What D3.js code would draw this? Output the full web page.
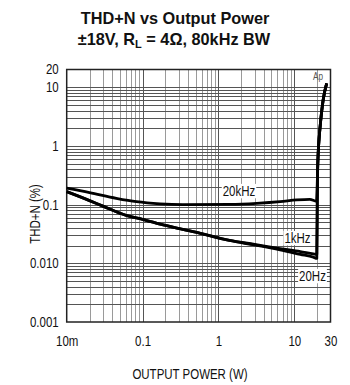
<!DOCTYPE html>
<html>
<head>
<meta charset="utf-8">
<script src="https://cdn.jsdelivr.net/npm/d3@7"></script>
<style>
  html, body { margin: 0; padding: 0; background: #fff; }
  svg { display: block; }
  .title { font-family: "Liberation Sans", Arial, sans-serif; font-weight: bold; font-size: 16.3px; fill: #111; }
  .lbl { font-family: "Liberation Sans", Arial, sans-serif; font-size: 14px; fill: #111; }
</style>
</head>
<body>
<svg id="chart" width="350" height="385"></svg>
<script>
// THD+N (%) versus output power (W) for three test frequencies
const power20k = [0.01, 0.02, 0.045, 0.083, 0.17, 0.34, 1.4, 3.2, 6.5, 10.8, 16, 19.6, 20.2, 20.6, 21.2, 21.7, 24, 26.7];
const thd20k   = [0.19, 0.16, 0.128, 0.112, 0.103, 0.1, 0.101, 0.105, 0.112, 0.12, 0.123, 0.114, 0.3, 0.7, 1.3, 1.87, 6.05, 11.6];

const power1k  = [0.01, 0.02, 0.03, 0.062, 0.1, 0.187, 0.5, 1.4, 3, 6.5, 12, 17.8, 19.8, 20.2, 20.6, 21.2, 21.7, 24, 26.7];
const thd1k    = [0.166, 0.117, 0.094, 0.0647, 0.056, 0.045, 0.034, 0.0245, 0.021, 0.0178, 0.0158, 0.0145, 0.0142, 0.3, 0.7, 1.3, 1.87, 6.05, 11.6];

const power20  = [0.01, 0.02, 0.03, 0.062, 0.1, 0.187, 0.5, 1.4, 3, 6.5, 12, 17.8, 19.8, 20.2, 20.6, 21.2, 21.7, 24, 26.7];
const thd20    = [0.166, 0.117, 0.094, 0.0647, 0.056, 0.045, 0.034, 0.0245, 0.0205, 0.0169, 0.0142, 0.0127, 0.0121, 0.3, 0.7, 1.3, 1.87, 6.05, 11.6];

const xTickValues = [0.01, 0.1, 1, 10, 30];
const xTickLabels = ["10m", "0.1", "1", "10", "30"];
const yTickValues = [0.001, 0.01, 0.1, 1, 10, 20];
const yTickLabels = ["0.001", "0.010", "0.1", "1", "10", "20"];

const svg = d3.select("#chart");
const plotL = 66.7, plotR = 330.5, plotT = 69.5, plotB = 322;
const squeeze = 0.82; // narrow lettering for the plot labels

const x = d3.scaleLog().domain([0.01, 30]).range([plotL, plotR]);
const y = d3.scaleLog().domain([0.001, 20]).range([plotB, plotT]);

// compress a text horizontally about its own x anchor
function narrow(sel) {
  sel.each(function () {
    const t = d3.select(this);
    const ox = +t.attr("x") || 0;
    t.attr("transform", `translate(${ox},0) scale(${squeeze},1) translate(${-ox},0)`);
  });
}

// title
svg.append("text").attr("class", "title").attr("x", 175).attr("y", 23.5)
  .attr("text-anchor", "middle").text("THD+N vs Output Power");
const t2 = svg.append("text").attr("class", "title").attr("x", 174).attr("y", 45)
  .attr("text-anchor", "middle");
t2.append("tspan").text("\u00B118V, R");
t2.append("tspan").attr("font-size", "11px").attr("dy", 3).text("L");
t2.append("tspan").attr("dy", -3).text(" = 4\u03A9, 80kHz BW");

// grid: every 1..9 multiple inside each decade
const g = svg.append("g");
const xGrid = [];
for (let d = 0.01; d < 30; d *= 10) for (let k = 1; k <= 9; k++) { const v = +(d * k).toPrecision(3); if (v > 0.01 && v < 30) xGrid.push(v); }
const yGrid = [];
for (let d = 0.001; d < 20; d *= 10) for (let k = 1; k <= 9; k++) { const v = +(d * k).toPrecision(3); if (v > 0.001 && v < 20) yGrid.push(v); }

g.selectAll(".vx").data(xGrid).join("line")
  .attr("x1", d => Math.round(x(d)) + 0.5).attr("x2", d => Math.round(x(d)) + 0.5)
  .attr("y1", plotT).attr("y2", plotB)
  .attr("stroke", d => [0.1, 1, 10].includes(d) ? "#555" : "#9a9a9a").attr("stroke-width", 1);
g.selectAll(".hy").data(yGrid).join("line")
  .attr("y1", d => Math.round(y(d)) + 0.5).attr("y2", d => Math.round(y(d)) + 0.5)
  .attr("x1", plotL).attr("x2", plotR)
  .attr("stroke", "#555").attr("stroke-width", 1);

// frame
svg.append("rect").attr("x", plotL).attr("y", plotT).attr("width", plotR - plotL).attr("height", plotB - plotT)
  .attr("fill", "none").attr("stroke", "#222").attr("stroke-width", 1.5);

// axes labels (no tick marks)
const xAxis = d3.axisBottom(x).tickValues(xTickValues).tickFormat((d, i) => xTickLabels[i]).tickSize(0).tickPadding(14);
const ax = svg.append("g").attr("transform", `translate(0,${plotB})`).call(xAxis);
ax.select(".domain").remove();
ax.selectAll("text").attr("class", "lbl").attr("font-size", null).attr("font-family", null).attr("fill", null).call(narrow);

const yAxis = d3.axisLeft(y).tickValues(yTickValues).tickFormat((d, i) => yTickLabels[i]).tickSize(0).tickPadding(8);
const ay = svg.append("g").attr("transform", `translate(${plotL},0)`).call(yAxis);
ay.select(".domain").remove();
ay.selectAll("text").attr("class", "lbl").attr("font-size", null).attr("font-family", null).attr("fill", null).call(narrow);

svg.append("text").attr("class", "lbl").attr("x", 190).attr("y", 379).attr("text-anchor", "middle")
  .text("OUTPUT POWER (W)").call(narrow);
svg.append("text").attr("class", "lbl").attr("transform", `translate(40,214) rotate(-90) scale(${squeeze},1)`)
  .attr("text-anchor", "middle").text("THD+N (%)");

// curves
const line = d3.line().x(d => x(d[0])).y(d => y(d[1])).curve(d3.curveMonotoneX);
const series = [
  d3.zip(power20, thd20),
  d3.zip(power1k, thd1k),
  d3.zip(power20k, thd20k)
];
svg.append("g").selectAll("path").data(series).join("path")
  .attr("d", line).attr("fill", "none").attr("stroke", "#000").attr("stroke-width", 2.8)
  .attr("stroke-linejoin", "round");

// curve labels on white patches
function tag(txt, cx, cy) {
  const t = svg.append("text").attr("class", "lbl").attr("x", cx).attr("y", cy + 5)
    .attr("text-anchor", "middle").text(txt).call(narrow);
  const b = t.node().getBBox();
  const w = b.width * squeeze;
  svg.insert("rect", () => t.node()).attr("x", cx - w / 2 - 1).attr("y", b.y + 1)
    .attr("width", w + 2).attr("height", b.height - 2).attr("fill", "#fff");
}
tag("20kHz", 239, 191);
tag("1kHz", 297.5, 238);
tag("20Hz", 312.5, 276);

svg.append("text").attr("x", 318).attr("y", 80).attr("text-anchor", "middle")
  .attr("font-family", "Liberation Sans, sans-serif").attr("font-size", "10px")
  .attr("fill", "#555").text("Ap").call(narrow);
</script>
</body>
</html>
